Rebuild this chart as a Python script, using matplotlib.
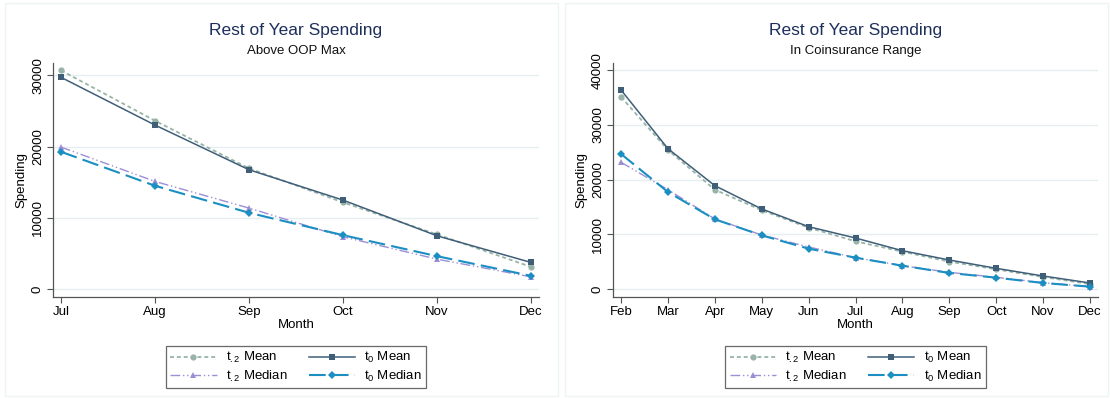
import matplotlib
matplotlib.use("Agg")
import matplotlib.pyplot as plt

plt.rcParams['font.family'] = ['Liberation Sans', 'DejaVu Sans']
plt.rcParams['mathtext.fontset'] = 'custom'
plt.rcParams['mathtext.rm'] = 'Liberation Sans'
plt.rcParams['mathtext.it'] = 'Liberation Sans'

# ---- data ----
months_left = ["Jul", "Aug", "Sep", "Oct", "Nov", "Dec"]
left_t2_mean = [30700, 23640, 16950, 12180, 7680, 3130]
left_t0_mean = [29730, 23030, 16760, 12500, 7490, 3750]
left_t2_median = [19940, 15120, 11380, 7350, 4210, 1730]
left_t0_median = [19280, 14510, 10720, 7580, 4630, 1870]

months_right = ["Feb", "Mar", "Apr", "May", "Jun", "Jul", "Aug", "Sep", "Oct", "Nov", "Dec"]
right_t0_mean = [36380, 25650, 18890, 14630, 11390, 9320, 7000, 5300, 3780, 2380, 1100]
right_t2_mean = [35100, 25410, 18150, 14390, 11210, 8720, 6820, 5000, 3600, 2190, 900]
right_t2_median = [23160, 18150, 12800, 9870, 7680, 5730, 4260, 3050, 2140, 1160, 430]
right_t0_median = [24680, 17730, 12740, 9810, 7370, 5730, 4260, 2930, 2070, 1100, 430]

left_yticks = [0, 10000, 20000, 30000]
right_yticks = [0, 10000, 20000, 30000, 40000]

labels = ["t$_{.2}$ Mean", "t$_{0}$ Mean", "t$_{.2}$ Median", "t$_{0}$ Median"]
subtitles = ["Above OOP Max", "In Coinsurance Range"]

# ---- styles ----
styles = [
    dict(color="#98b4a8", ls=(0, (2.2, 1.6)), marker="o", ms=4.5, lw=1.3),
    dict(color="#3f5f78", ls="-", marker="s", ms=4, lw=1.1),
    dict(color="#9d8fd6", ls=(0, (7, 2, 1, 2, 1, 2)), marker="^", ms=4.5, lw=1.0),
    dict(color="#1b8ec2", ls=(0, (8, 3)), marker="D", ms=4, lw=1.5),
]

W, H = 1110, 398
fig = plt.figure(figsize=(W / 100, H / 100), dpi=100)


def fx(px):
    return px / W


def fy(py):
    return 1 - py / H


# faint panel frames
for (x0, x1) in [(5, 558), (565, 1108)]:
    fig.add_artist(plt.Rectangle((fx(x0), fy(396)), fx(x1 - x0), (396 - 3) / H,
                                 transform=fig.transFigure, fill=False,
                                 ec="#eef3f3", lw=1.0))

panels = [
    (53, 539, months_left, [left_t2_mean, left_t0_mean, left_t2_median, left_t0_median],
     left_yticks, (-1100, 31740), subtitles[0]),
    (613, 1098, months_right, [right_t2_mean, right_t0_mean, right_t2_median, right_t0_median],
     right_yticks, (-1460, 41300), subtitles[1]),
]

for (xl, xr, months, series, yticks, ylim, sub) in panels:
    ax = fig.add_axes([fx(xl), fy(297), fx(xr - xl), (297 - 63) / H])
    x = list(range(len(months)))
    handles = []
    for s, st in zip(series, styles):
        h, = ax.plot(x, s, color=st["color"], linestyle=st["ls"], marker=st["marker"],
                     markersize=st["ms"], linewidth=st["lw"], markeredgewidth=0)
        handles.append(h)
    n = len(months) - 1
    pad = 8 / (xr - xl - 16) * n
    ax.set_xlim(-pad, n + pad)
    ax.set_ylim(*ylim)
    ax.set_xticks(x)
    ax.set_xticklabels(months, fontsize=9.5)
    ax.set_yticks(yticks)
    ax.set_yticklabels([str(v) for v in yticks], fontsize=9.5, rotation=90, va="center")
    ax.tick_params(axis="both", direction="out", length=4.5, width=0.8, color="#555555",
                   pad=2)
    ax.grid(axis="y", color="#e6eff0", lw=1.0)
    ax.set_axisbelow(True)
    for sp in ["top", "right"]:
        ax.spines[sp].set_visible(False)
    for sp in ["left", "bottom"]:
        ax.spines[sp].set_color("#555555")
        ax.spines[sp].set_linewidth(0.9)
    ax.set_xlabel("Month", fontsize=9.5, labelpad=1)
    ax.set_ylabel("Spending", fontsize=9.5, labelpad=3)
    cx = (xl + xr) / 2
    fig.text(fx(cx), fy(30), "Rest of Year Spending", ha="center", va="center",
             fontsize=12.5, color="#1d2f5c")
    fig.text(fx(cx), fy(51), sub, ha="center", va="center", fontsize=9.5, color="#111111")
    order = [0, 2, 1, 3]
    leg = fig.legend([handles[i] for i in order], [labels[i] for i in order], ncol=2,
                     loc="center", bbox_to_anchor=(fx(cx), fy(367)), fontsize=9.5,
                     frameon=True, fancybox=False, edgecolor="#444444",
                     handlelength=3.5, columnspacing=1.6, handletextpad=0.7,
                     labelspacing=0.25, borderpad=0.35, borderaxespad=0)
    leg.get_frame().set_linewidth(0.9)

fig.savefig("out.png", dpi=100)
